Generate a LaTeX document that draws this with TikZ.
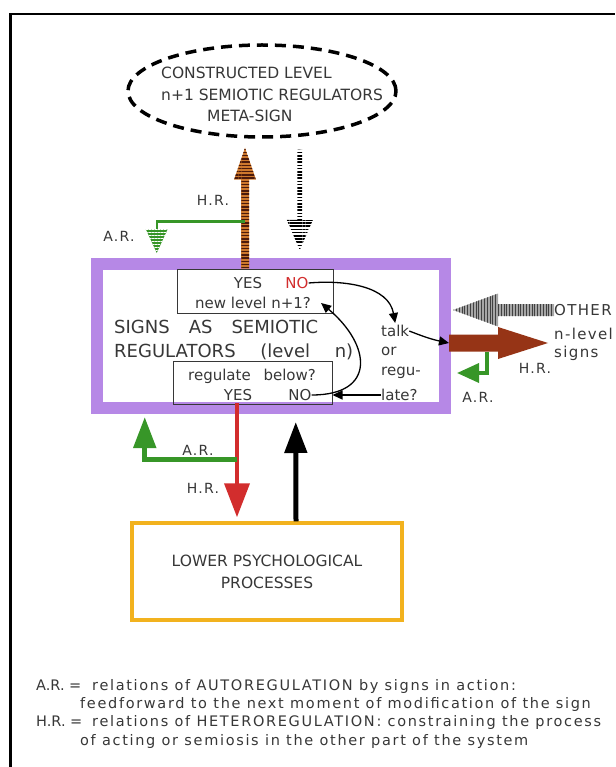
\documentclass[tikz,border=0pt]{standalone}
\usepackage{fontspec}
\setmainfont{DejaVu Sans}
\newfontfamily\scanfont{DejaVu Sans}[LetterSpace=9]
\newfontfamily\legfont{DejaVu Sans}[LetterSpace=11.5]
\usetikzlibrary{arrows.meta,calc,shapes.geometric,patterns.meta}

\definecolor{ink}{RGB}{55,55,55}
\definecolor{lilac}{RGB}{182,136,230}
\definecolor{hrorange}{RGB}{205,120,45}
\definecolor{hrbrown}{RGB}{150,52,22}
\definecolor{hrred}{RGB}{210,45,45}
\definecolor{argreen}{RGB}{55,150,40}
\definecolor{gold}{RGB}{242,178,30}

% broad arrow: [style]{from}{to}{half shaft}{half head}{head length}
\newcommand{\fatarrow}[6][]{%
  \coordinate (fa-base) at ($(#3)!#6!(#2)$);
  \path[#1] ($(#2)!#4!90:(#3)$) -- ($(fa-base)!#4!90:(#3)$) -- ($(fa-base)!#5!90:(#3)$)
    -- (#3) -- ($(fa-base)!#5!-90:(#3)$) -- ($(fa-base)!#4!-90:(#3)$)
    -- ($(#2)!#4!-90:(#3)$) -- cycle;}
\newcommand{\legkey}[1]{\makebox[56pt][l]{\addfontfeature{LetterSpace=0}#1 =}}

\begin{document}
\begin{tikzpicture}[x=1pt, y=-1pt,
  txt/.style={inner sep=0pt, text=ink, font=\fontsize{15}{18}\selectfont},
  lbl/.style={inner sep=0pt, text=ink, font=\scanfont\fontsize{14}{16}\selectfont},
  leg/.style={inner sep=0pt, anchor=west, text=ink, font=\legfont\fontsize{14.5}{16}\selectfont},
  yesno/.style={draw=ink, line width=1pt, minimum width=#1, minimum height=44pt},
  link/.style={line width=1.3pt, -{Triangle[length=10pt,width=9pt]}},
  arline/.style={argreen, line width=#1},
  hrup/.style={fill=hrorange, postaction={pattern={Lines[angle=0,distance=3.2pt,line width=1.4pt]}, pattern color=hrbrown!50!black}},
  hrdown/.style={pattern={Lines[angle=0,distance=3.2pt,line width=1.6pt]}, pattern color=black},
  otherarr/.style={fill=black!35, postaction={pattern={Lines[angle=90,distance=2.8pt,line width=0.8pt]}, pattern color=black!75}},
  arhead/.style={fill=argreen, postaction={pattern={Lines[angle=0,distance=3pt,line width=1pt]}, pattern color=white}},
]
\useasboundingbox (0,0) rectangle (615,767);
\draw[line width=2.2pt] (10.5,767) -- (10.5,14.3) -- (615,14.3);

% meta-sign
\node[ellipse, draw, line width=3.5pt, dash pattern=on 11pt off 7pt,
  minimum width=268pt, minimum height=92pt] (meta) at (262,91) {};
\node[txt, anchor=west, align=left, font=\fontsize{15.5}{21.5}\selectfont] (metatxt) at (161,94.5)
  {CONSTRUCTED LEVEL\\n+1 SEMIOTIC REGULATORS\\\hspace*{46pt}META-SIGN};

% signs as semiotic regulators
\node[draw=lilac, line width=12pt, minimum width=348.5pt, minimum height=144pt] (signs) at (270.75,336) {};
\node[yesno=156pt] (ynup) at (255,291) {};
\node[yesno=159pt, minimum height=43pt] (ynlow) at (252.5,382.5) {};
\node[txt, anchor=west, align=left, font=\fontsize{18}{24}\selectfont] (signtxt) at (114,340)
  {\makebox[204pt][s]{SIGNS AS SEMIOTIC}\\\makebox[239pt][s]{REGULATORS (level n)}};
\node[txt] (yesup) at (248,283) {YES};
\node[txt, text=hrred] (noup) at (297,283) {NO};
\node[txt] (newlvl) at (253,303) {new level n+1?};
\node[txt] (reglow) at (252,376) {regulate\hspace{8pt} below?};
\node[txt] (yeslow) at (238,395) {YES};
\node[txt] (nolow) at (300,395) {NO};
\node[txt, anchor=west] (talk) at (381,331) {talk};
\node[txt, anchor=west] (or) at (381,351) {or};
\node[txt, anchor=west] (regu) at (381,373) {regu-};
\node[txt, anchor=west] (late) at (381,395) {late?};

% lower processes
\node[draw=gold, line width=3.5pt, minimum width=270pt, minimum height=97pt, txt, align=center,
  font=\fontsize{15.5}{22}\selectfont] (lower) at (267,571.5) {LOWER PSYCHOLOGICAL\\PROCESSES};

% other n-level signs
\node[lbl, anchor=west, font=\scanfont\fontsize{15}{17}\selectfont] (other) at (554,310) {OTHER};
\node[lbl, anchor=west, font=\scanfont\fontsize{15}{17}\selectfont] (nlevel) at (554,334) {n-level};
\node[lbl, anchor=west, font=\scanfont\fontsize{15}{17}\selectfont] (nsigns) at (554,353) {signs};

% arrow ends
\coordinate (hr1s) at ($(ynup.north)+(-10,0)$);
\coordinate (hr1t) at ($(meta.south)+(-17,9)$);
\coordinate (ar1s) at ($(hr1s)!0.39!(hr1t)$);
\coordinate (ar1t) at ($(signs.north)+(-114,-5)$);
\coordinate (ar1b) at ($(ar1t)+(0,-24)$);
\coordinate (hrds) at ($(meta.south)+(38,11)$);
\coordinate (hrdt) at ($(signs.north)+(29,-8)$);
\coordinate (hrrs) at ($(signs.east)+(-2,7)$);
\coordinate (hrrt) at ($(hrrs)+(99,0)$);
\coordinate (othert) at ($(signs.east)+(2,-26)$);
\coordinate (ar2s) at ($(hrrs)+(38,8.5)$);
\coordinate (ar2t) at ($(signs.east)+(6,37)$);
\coordinate (hr2s) at ($(ynlow.south)+(-15.5,-2)$);
\coordinate (hr2t) at ($(lower.north)+(-30,-4)$);
\coordinate (ar3s) at ($(hr2s)!0.5!(hr2t)$);
\coordinate (ar3t) at ($(signs.south)+(-126,3)$);
\coordinate (upb) at ($(lower.north)+(29,0)$);
\coordinate (upt) at ($(signs.south)+(25,8)$);

% regulation arrows
\fatarrow[hrup]{hr1s}{hr1t}{4pt}{11pt}{32pt}
\fatarrow[hrdown]{hrds}{hrdt}{2.5pt}{13pt}{30pt}
\draw[arline=2.5pt] (ar1s) -| (ar1b);
\fatarrow[arhead]{ar1b}{ar1t}{0pt}{11pt}{24pt}
\fatarrow[otherarr]{other.west}{othert}{6pt}{16.5pt}{45pt}
\fatarrow[fill=hrbrown]{hrrs}{hrrt}{8.5pt}{16pt}{50pt}
\draw[arline=3.5pt, -{Triangle[length=22pt,width=19pt]}] (ar2s) |- (ar2t);
\draw[hrred, line width=4pt, -{Triangle[length=34pt,width=25pt]}] (hr2s) -- (hr2t);
\draw[arline=5pt, -{Triangle[length=31pt,width=22pt]}] (ar3s) -| (ar3t);
\draw[line width=5pt, -{Triangle[length=31pt,width=22pt]}] (upb) -- (upt);

% decision links
\draw[link] (noup.east) to[out=5, in=100] ([yshift=2pt]talk.north);
\draw[link] (talk.east) to[bend right=5] (hrrs);
\draw[link] (nolow.east) to[out=0, in=-40, looseness=1.8] ([xshift=10pt]newlvl.east);
\draw[link] (late.west) -- (late.west -| ynlow.east);

% labels
\node[lbl] (hr1) at (213,200) {H.R.};
\node[lbl] (ar1) at (119,236) {A.R.};
\node[lbl] (ar3) at (198,450) {A.R.};
\node[lbl] (hr2) at (203,488) {H.R.};
\node[lbl] (hr3) at (535,368) {H.R.};
\node[lbl] (ar2) at (478,397) {A.R.};

% legend
\node[leg] (leg1) at (36,686) {\legkey{A.R.}relations of AUTOREGULATION by signs in action:};
\node[leg] (leg2) at (80,704) {feedforward to the next moment of modification of the sign};
\node[leg] (leg3) at (36,722) {\legkey{H.R.}relations of HETEROREGULATION: constraining the process};
\node[leg] (leg4) at (80,741) {of acting or semiosis in the other part of the system};
\end{tikzpicture}
\end{document}
